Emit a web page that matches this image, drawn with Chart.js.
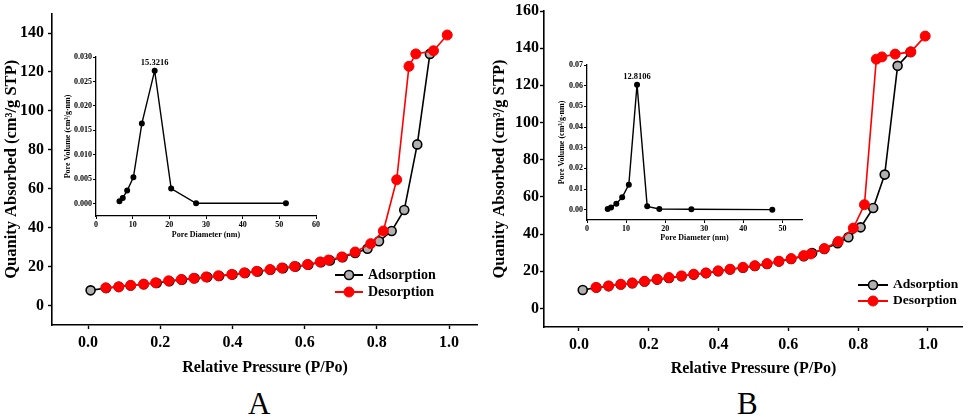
<!DOCTYPE html>
<html>
<head>
<meta charset="utf-8">
<script src="https://cdn.jsdelivr.net/npm/chart.js@4.4.1/dist/chart.umd.min.js"></script>
<style>
  body { margin: 0; background: #fff; width: 969px; height: 418px; position: relative; overflow: hidden; font-family: "Liberation Serif", serif; }
  canvas { position: absolute; }
  .tag { position: absolute; top: 388px; font-size: 31px; line-height: 31px; color: #000; }
</style>
</head>
<body>
<canvas id="mainA" width="484" height="381" style="left:0;top:0"></canvas>
<canvas id="mainB" width="485" height="381" style="left:484px;top:0"></canvas>
<canvas id="insetA" width="270" height="200" style="left:60px;top:45px"></canvas>
<canvas id="insetB" width="260" height="195" style="left:555px;top:55px"></canvas>
<div class="tag" style="left:248px">A</div>
<div class="tag" style="left:737px">B</div>
<script>
// ---- panel A isotherm ----
const adsA_x = [0.007, 0.05, 0.085, 0.118, 0.154, 0.19, 0.225, 0.26, 0.295, 0.33, 0.363, 0.4, 0.435, 0.47, 0.505, 0.54, 0.575, 0.61, 0.645, 0.67, 0.705, 0.74, 0.774, 0.806, 0.841, 0.876, 0.912, 0.947];
const adsA_y = [7.8, 9.0, 9.6, 10.3, 10.9, 11.6, 12.5, 13.3, 14.0, 14.6, 15.2, 15.9, 16.7, 17.5, 18.4, 19.2, 20.0, 21.0, 22.3, 23.2, 24.8, 27.0, 29.2, 33.0, 38.3, 49.1, 82.8, 129.3];
const desA_x = [0.049, 0.085, 0.118, 0.154, 0.187, 0.223, 0.258, 0.293, 0.327, 0.361, 0.398, 0.433, 0.467, 0.504, 0.537, 0.572, 0.608, 0.643, 0.666, 0.703, 0.74, 0.783, 0.818, 0.855, 0.889, 0.908, 0.957, 0.995];
const desA_y = [9.1, 9.6, 10.4, 11.0, 11.7, 12.7, 13.4, 14.0, 14.7, 15.3, 16.0, 16.8, 17.6, 18.5, 19.3, 20.1, 21.1, 22.4, 23.4, 25.0, 27.5, 31.8, 38.3, 64.6, 122.9, 129.3, 130.9, 139.0];

// ---- panel B isotherm ----
const adsB_x = [0.011, 0.05, 0.085, 0.12, 0.153, 0.188, 0.224, 0.258, 0.294, 0.329, 0.364, 0.399, 0.433, 0.47, 0.504, 0.539, 0.573, 0.608, 0.644, 0.668, 0.703, 0.741, 0.772, 0.807, 0.843, 0.876, 0.913, 0.95];
const adsB_y = [9.9, 11.2, 12.0, 12.9, 13.6, 14.5, 15.5, 16.4, 17.3, 18.2, 19.0, 20.0, 20.9, 21.9, 22.8, 23.9, 25.2, 26.6, 28.1, 29.8, 32.0, 35.1, 38.3, 43.6, 54.0, 72.0, 130.5, 138.0];
const desB_x = [0.049, 0.085, 0.12, 0.153, 0.188, 0.224, 0.258, 0.294, 0.329, 0.364, 0.399, 0.433, 0.47, 0.504, 0.539, 0.573, 0.608, 0.644, 0.664, 0.703, 0.743, 0.786, 0.818, 0.852, 0.868, 0.906, 0.951, 0.992];
const desB_y = [11.3, 12.1, 13.0, 13.7, 14.6, 15.7, 16.6, 17.5, 18.4, 19.1, 20.2, 21.1, 22.1, 23.0, 24.1, 25.4, 26.8, 28.4, 29.3, 32.2, 36.0, 43.2, 55.8, 134.1, 135.3, 136.8, 138.0, 146.5];

// ---- pore size distributions (insets) ----
const poreA_x = [6.4, 7.3, 8.5, 10.2, 12.5, 16.0, 20.5, 27.3, 51.8];
const poreA_y = [0.0005, 0.0012, 0.0027, 0.0054, 0.0164, 0.0272, 0.0031, 0.0001, 0.0001];
const poreB_x = [5.3, 6.15, 7.5, 9.0, 10.7, 12.8, 15.4, 18.5, 26.7, 47.4];
const poreB_y = [0.0003, 0.0011, 0.0029, 0.006, 0.0121, 0.0605, 0.0016, 0.0003, 0.0002, 0.0];
const peakA = '15.3216';
const peakB = '12.8106';

// ---- tick labels ----
const mainTicksX = [0, 0.2, 0.4, 0.6, 0.8, 1.0];
const mainTicksYA = [0, 20, 40, 60, 80, 100, 120, 140];
const mainTicksYB = [0, 20, 40, 60, 80, 100, 120, 140, 160];
const insetTicksXA = [0, 10, 20, 30, 40, 50, 60];
const insetTicksYA = [0, 0.005, 0.01, 0.015, 0.02, 0.025, 0.03];
const insetTicksXB = [0, 10, 20, 30, 40, 50];
const insetTicksYB = [0, 0.01, 0.02, 0.03, 0.04, 0.05, 0.06, 0.07];

const FONT = 'Liberation Serif';
const pts = (xs, ys) => xs.map((x, i) => ({ x: x, y: ys[i] }));

// legend drawn inside the plot, like the original figure
const isoLegend = {
  id: 'isoLegend',
  afterDraw(chart, args, opts) {
    const ctx = chart.ctx;
    ctx.save();
    chart.data.datasets.forEach((ds, i) => {
      const y = opts.y + i * opts.gap;
      ctx.strokeStyle = ds.borderColor;
      ctx.lineWidth = 2;
      ctx.beginPath();
      ctx.moveTo(opts.x, y);
      ctx.lineTo(opts.x + opts.len, y);
      ctx.stroke();
      ctx.beginPath();
      ctx.arc(opts.x + opts.len / 2, y, ds.pointRadius, 0, Math.PI * 2);
      ctx.fillStyle = ds.pointBackgroundColor;
      ctx.fill();
      ctx.lineWidth = ds.pointBorderWidth;
      ctx.strokeStyle = ds.pointBorderColor;
      ctx.stroke();
      ctx.fillStyle = '#000';
      ctx.font = 'bold ' + opts.size + 'px ' + FONT;
      ctx.textBaseline = 'middle';
      ctx.fillText(ds.label, opts.x + opts.len + 5, y);
    });
    ctx.restore();
  }
};

// peak value written above the highest point of the inset
const peakLabel = {
  id: 'peakLabel',
  afterDatasetsDraw(chart, args, opts) {
    const data = chart.data.datasets[0].data;
    let top = data[0];
    data.forEach(p => { if (p.y > top.y) top = p; });
    const ctx = chart.ctx;
    ctx.save();
    ctx.fillStyle = '#000';
    ctx.font = 'bold 8.5px ' + FONT;
    ctx.textAlign = 'center';
    ctx.textBaseline = 'bottom';
    ctx.fillText(opts.text, chart.scales.x.getPixelForValue(top.x), chart.scales.y.getPixelForValue(top.y) - 4);
    ctx.restore();
  }
};

function mainChart(id, ads, des, c) {
  new Chart(document.getElementById(id), {
    type: 'scatter',
    data: {
      datasets: [
        { label: 'Adsorption', data: ads, showLine: true, order: 1,
          borderColor: '#000', borderWidth: 1.6,
          pointRadius: 4.5, pointBackgroundColor: '#b0b0b0', pointBorderColor: '#000', pointBorderWidth: 1.6 },
        { label: 'Desorption', data: des, showLine: true, order: 0,
          borderColor: '#f00', borderWidth: 1.6,
          pointRadius: 5, pointBackgroundColor: '#f00', pointBorderColor: '#f00', pointBorderWidth: 1 }
      ]
    },
    options: {
      responsive: false,
      animation: false,
      layout: { padding: c.pad },
      plugins: { legend: { display: false }, tooltip: { enabled: false }, isoLegend: c.legend },
      scales: {
        x: {
          min: -0.1, max: c.xmax,
          afterBuildTicks: s => { s.ticks = mainTicksX.map(v => ({ value: v })); },
          afterFit: s => { s.height = c.xh; },
          border: { color: '#000', width: 1.6 },
          grid: { display: true, drawOnChartArea: false, color: '#000', tickLength: 4, tickWidth: 1.4 },
          ticks: { color: '#000', padding: 4, maxRotation: 0, font: { family: FONT, size: 16, weight: 'bold' }, callback: v => v.toFixed(1) },
          title: { display: true, text: 'Relative Pressure (P/Po)', color: '#000', padding: { top: 0, bottom: c.xtPad }, font: { family: FONT, size: 16, weight: 'bold' } }
        },
        y: {
          min: -10, max: c.ymax,
          afterBuildTicks: s => { s.ticks = c.yTicks.map(v => ({ value: v })); },
          afterFit: s => { s.width = c.yw; },
          border: { color: '#000', width: 1.6 },
          grid: { display: true, drawOnChartArea: false, color: '#000', tickLength: 4, tickWidth: 1.4 },
          ticks: { color: '#000', padding: c.yPad, font: { family: FONT, size: 16, weight: 'bold' } },
          title: { display: true, text: 'Quanity Absorbed (cm³/g STP)', color: '#000', padding: { top: c.ytPad, bottom: 0 }, font: { family: FONT, size: 16.5, weight: 'bold' } }
        }
      }
    },
    plugins: [isoLegend]
  });
}

function insetChart(id, data, c) {
  new Chart(document.getElementById(id), {
    type: 'scatter',
    data: {
      datasets: [{ label: 'Pore', data: data, showLine: true,
        borderColor: '#000', borderWidth: 1.4,
        pointRadius: 2.3, pointBackgroundColor: '#000', pointBorderColor: '#000' }]
    },
    options: {
      responsive: false,
      animation: false,
      layout: { padding: c.pad },
      plugins: { legend: { display: false }, tooltip: { enabled: false }, peakLabel: { text: c.peak } },
      scales: {
        x: {
          min: 0, max: c.xmax,
          afterBuildTicks: s => { s.ticks = c.xTicks.map(v => ({ value: v })); },
          afterFit: s => { s.height = c.xh; },
          border: { color: '#000', width: 1.3 },
          grid: { display: true, drawOnChartArea: false, color: '#000', tickLength: 3, tickWidth: 1 },
          ticks: { color: '#000', padding: 1, maxRotation: 0, font: { family: FONT, size: 8, weight: 'bold' } },
          title: { display: true, text: 'Pore Diameter (nm)', color: '#000', padding: { top: 0, bottom: c.xtPad }, font: { family: FONT, size: 8, weight: 'bold' } }
        },
        y: {
          min: c.ymin, max: c.ymax,
          afterBuildTicks: s => { s.ticks = c.yTicks.map(v => ({ value: v })); },
          afterFit: s => { s.width = c.yw; },
          border: { color: '#000', width: 1.3 },
          grid: { display: true, drawOnChartArea: false, color: '#000', tickLength: 3, tickWidth: 1 },
          ticks: { color: '#000', padding: 1, font: { family: FONT, size: 8, weight: 'bold' }, callback: v => v.toFixed(c.dec) },
          title: { display: true, text: 'Pore Volume (cm³/g·nm)', color: '#000', padding: { top: c.ytPad, bottom: 0 }, font: { family: FONT, size: 8, weight: 'bold' } }
        }
      }
    },
    plugins: [peakLabel]
  });
}

mainChart('mainA', pts(adsA_x, adsA_y), pts(desA_x, desA_y), {
  pad: { top: 3, right: 4, left: 0, bottom: 0 }, xmax: 1.08, ymax: 150, yTicks: mainTicksYA,
  xh: 56, yw: 52, xtPad: 4, ytPad: 2, yPad: 4,
  legend: { x: 335, y: 275, gap: 17, len: 28, size: 14 }
});
mainChart('mainB', pts(adsB_x, adsB_y), pts(desB_x, desB_y), {
  pad: { top: 11, right: 2, left: 0, bottom: 0 }, xmax: 1.1, ymax: 160, yTicks: mainTicksYB,
  xh: 54, yw: 60, xtPad: 3, ytPad: 6, yPad: 1,
  legend: { x: 374, y: 285, gap: 16, len: 30, size: 13.5 }
});
insetChart('insetA', pts(poreA_x, poreA_y), {
  pad: { top: 12, right: 14, left: 0, bottom: 0 }, xmax: 60, ymin: -0.0025, ymax: 0.03,
  xTicks: insetTicksXA, yTicks: insetTicksYA, dec: 3, xh: 29, yw: 36, xtPad: 5, ytPad: 3, peak: peakA
});
insetChart('insetB', pts(poreB_x, poreB_y), {
  pad: { top: 10, right: 13, left: 0, bottom: 0 }, xmax: 55, ymin: -0.005, ymax: 0.07,
  xTicks: insetTicksXB, yTicks: insetTicksYB, dec: 2, xh: 30, yw: 32, xtPad: 7, ytPad: 2, peak: peakB
});
</script>
</body>
</html>
